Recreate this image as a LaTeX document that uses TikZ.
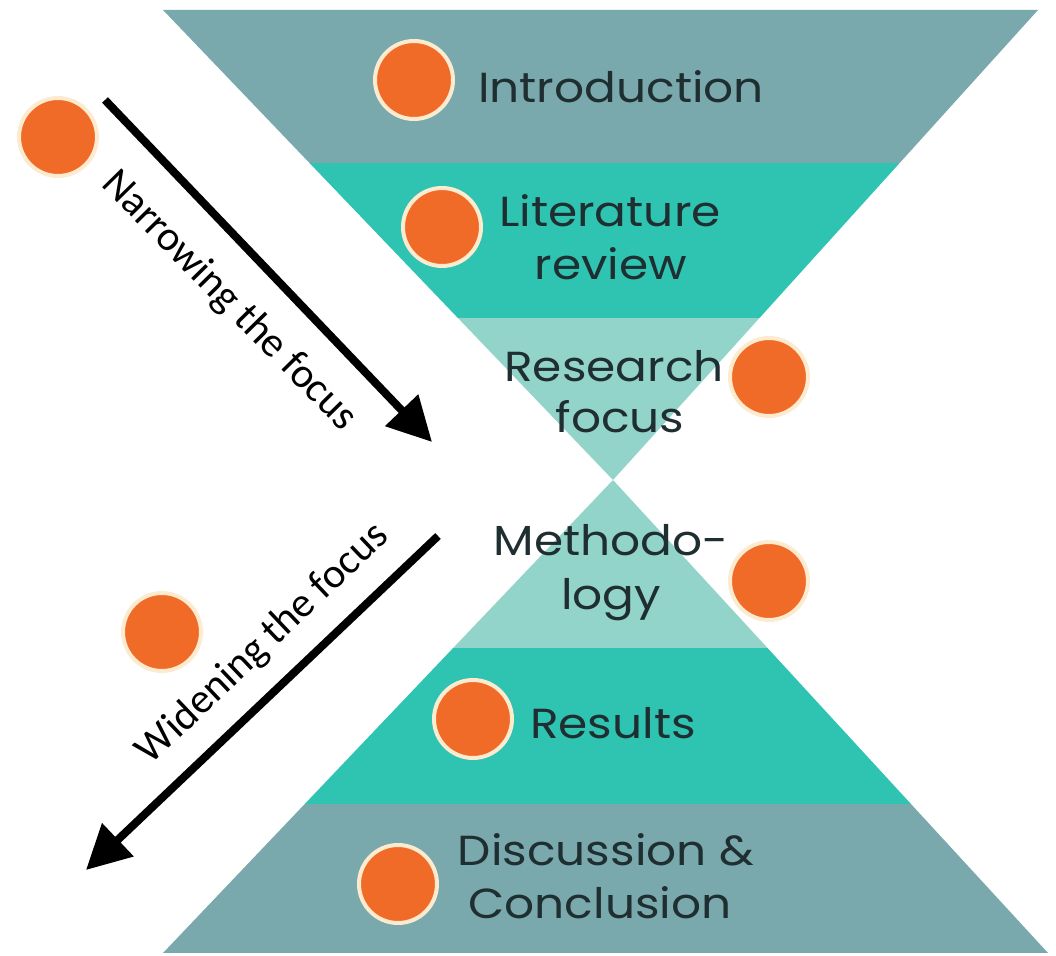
\documentclass[tikz,border=0pt]{standalone}
\usepackage{fontspec}
\newfontfamily\calib{Carlito}
\newfontfamily\gothic{Poppins}
\usetikzlibrary{arrows.meta}
\definecolor{tealdark}{HTML}{79A9AC}
\definecolor{tealmid}{HTML}{2FC3B1}
\definecolor{teallight}{HTML}{93D4CA}
\definecolor{dotorange}{HTML}{F06A28}
\definecolor{dotrim}{HTML}{FDEBD0}
\definecolor{labeltext}{HTML}{1F2E30}
\tikzset{
  dot/.style={circle, fill=dotorange, draw=dotrim, line width=2pt, minimum size=39pt, inner sep=0pt},
  stage/.style={anchor=base, inner sep=0pt, xscale=1.12, text=labeltext, font=\gothic\fontsize{21}{25}\selectfont},
  bigarrow/.style={line width=4pt, -{Triangle[length=22pt,width=22pt]}},
  arrowlabel/.style={inner sep=0pt, font=\calib\fontsize{21}{24}\selectfont}
}
\begin{document}
\begin{tikzpicture}[x=0.5pt,y=-0.5pt]
\useasboundingbox (0,0) rectangle (1056,956);
% upper funnel
\begin{scope}
  \clip (163,10) -- (1038,10) -- (613,480) -- cycle;
  \fill[tealdark] (0,0) rectangle (1056,163);
  \fill[tealmid] (0,163) rectangle (1056,318);
  \fill[teallight] (0,318) rectangle (1056,481);
\end{scope}
% lower funnel
\begin{scope}
  \clip (613,480) -- (1048,953) -- (163,953) -- cycle;
  \fill[teallight] (0,479) rectangle (1056,648);
  \fill[tealmid] (0,648) rectangle (1056,804);
  \fill[tealdark] (0,804) rectangle (1056,956);
\end{scope}
% stage labels
\node[stage] (intro) at (621,103) {Introduction};
\node[stage] (lit1) at (610,227) {Literature};
\node[stage] (lit2) at (611,280) {review};
\node[stage] (res1) at (614,382) {Research};
\node[stage] (res2) at (620,433) {focus};
\node[stage] (met1) at (611,556) {Methodo-};
\node[stage] (met2) at (611,610) {logy};
\node[stage] (rsl) at (613,739) {Results};
\node[stage] (dis1) at (606,866) {Discussion \&};
\node[stage] (dis2) at (600,919) {Conclusion};
% dots
\node[dot] (d1) at (414,80) {};
\node[dot] (d2) at (442,227) {};
\node[dot] (d3) at (769,377) {};
\node[dot] (d4) at (769,581) {};
\node[dot] (d5) at (473,719) {};
\node[dot] (d6) at (398,884) {};
\node[dot] (d7) at (58,137) {};
\node[dot] (d8) at (162,632) {};
% arrows
\coordinate (n0) at (105,100);
\coordinate (n1) at (432,442);
\coordinate (w0) at (438,536);
\coordinate (w1) at (86,870);
\draw[bigarrow] (n0) -- (n1);
\draw[bigarrow] (w0) -- (w1);
\node[arrowlabel, rotate=-45.5] (nl) at (229,301) {Narrowing the focus};
\node[arrowlabel, rotate=43.5] (wl) at (263,644) {Widening the focus};
\end{tikzpicture}
\end{document}
